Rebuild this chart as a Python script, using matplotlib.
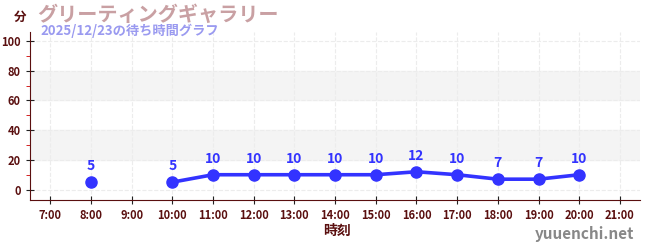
import numpy as np
import matplotlib.pyplot as plt
from matplotlib.ticker import MultipleLocator

plt.rcParams['font.family'] = ['Noto Sans CJK JP', 'DejaVu Sans']

hours = [8, 9, 10, 11, 12, 13, 14, 15, 16, 17, 18, 19, 20]
waits = [5, np.nan, 5, 10, 10, 10, 10, 10, 12, 10, 7, 7, 10]
xticks = list(range(7, 22))
xlabels = ['%d:00' % h for h in xticks]

title = 'グリーティングギャラリー'
subtitle = '2025/12/23の待ち時間グラフ'

dark = '#5a0f0f'
blue = '#3333ff'

fig = plt.figure(figsize=(6.5, 2.5), dpi=100)
ax = fig.add_axes([0.046, 0.2, 0.939, 0.672])

for lo in (20, 60):
    ax.axhspan(lo, lo + 20, color='#f4f4f4', zorder=0)

ax.plot(hours, waits, color=blue, lw=2.6, marker='o', ms=8, solid_joinstyle='round', zorder=3)
for h, w in zip(hours, waits):
    if not np.isnan(w):
        ax.text(h, w + 6, str(w), color=blue, ha='center', va='bottom',
                fontsize=10, fontweight='bold')

ax.set_xlim(6.5, 21.5)
ax.set_ylim(-7, 106)
ax.set_xticks(xticks)
ax.set_xticklabels(xlabels)
ax.yaxis.set_major_locator(MultipleLocator(20))
ax.yaxis.set_minor_locator(MultipleLocator(10))
ax.grid(True, color='#ececec', ls='--', lw=0.8)
ax.set_axisbelow(True)

for s in ('top', 'right'):
    ax.spines[s].set_visible(False)
for s in ('left', 'bottom'):
    ax.spines[s].set_color(dark)
ax.tick_params(axis='both', colors='#222222', labelcolor=dark, labelsize=8, direction='inout', length=6)
ax.tick_params(axis='y', which='minor', colors='#cc0000', length=3)
for t in ax.get_xticklabels() + ax.get_yticklabels():
    t.set_fontweight('bold')

fig.text(20 / 650, 1 - 17 / 250, '分', color=dark, fontsize=9, fontweight='bold', ha='center', va='center')
fig.text(37 / 650, 1 - 14 / 250, title, color='#c9a0a3', fontsize=14.5, fontweight='bold', va='center')
fig.text(40 / 650, 1 - 31 / 250, subtitle, color='#9a9af0', fontsize=9.5, fontweight='bold', va='center')
fig.text(337 / 650, 1 - 231 / 250, '時刻', color=dark, fontsize=10, fontweight='bold', ha='center', va='center')
fig.text(634 / 650, 1 - 234 / 250, 'yuuenchi.net', color='#888888', fontsize=11, fontweight='bold', ha='right', va='center')

fig.savefig('out.png', dpi=100)
